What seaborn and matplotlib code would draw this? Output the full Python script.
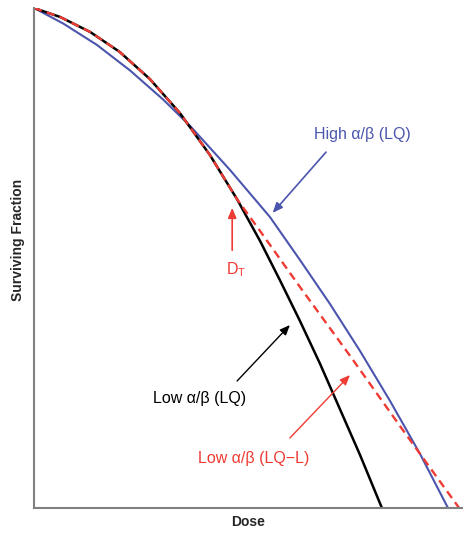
import numpy as np
import pandas as pd
import matplotlib
matplotlib.use("Agg")
import matplotlib.pyplot as plt
import seaborn as sns

# ---- data (dose, log10 surviving fraction) ----
black_dose = [0, 0.61, 1.31, 2.00, 2.70, 3.40, 4.10, 4.73, 5.27, 5.73, 6.20, 6.67, 7.13, 7.60, 8.11]
black_log = [0, -0.09, -0.24, -0.44, -0.71, -1.05, -1.47, -1.91, -2.33, -2.72, -3.13, -3.56, -4.01, -4.47, -5.00]

red_dose = [0, 0.61, 1.31, 2.00, 2.70, 3.40, 4.10, 4.73, 5.27, 6.20, 7.37, 8.53, 9.91]
red_log = [0, -0.09, -0.24, -0.44, -0.71, -1.05, -1.47, -1.91, -2.23, -2.79, -3.48, -4.18, -5.00]

blue_dose = [0, 0.68, 1.47, 2.24, 3.01, 3.64, 4.57, 5.50, 6.20, 6.90, 7.60, 8.30, 9.00, 9.65]
blue_log = [0, -0.155, -0.37, -0.625, -0.915, -1.18, -1.62, -2.09, -2.52, -2.96, -3.43, -3.93, -4.46, -5.00]

BLUE = "#4b55ad"
RED = "#ee3b34"

sns.set_style("white")
plt.rcParams['font.family'] = ['Liberation Sans', 'DejaVu Sans']

fig = plt.figure(figsize=(4.63, 5.33), dpi=100)
ax = fig.add_axes([34 / 463, 25 / 533, 429 / 463, 500 / 533])

df_b = pd.DataFrame({"dose": black_dose, "sf": 10.0 ** np.array(black_log)})
df_r = pd.DataFrame({"dose": red_dose, "sf": 10.0 ** np.array(red_log)})
df_h = pd.DataFrame({"dose": blue_dose, "sf": 10.0 ** np.array(blue_log)})

sns.lineplot(data=df_h, x="dose", y="sf", ax=ax, color=BLUE, lw=1.5, sort=False)
sns.lineplot(data=df_b, x="dose", y="sf", ax=ax, color="black", lw=1.8, sort=False)
sns.lineplot(data=df_r, x="dose", y="sf", ax=ax, color=RED, lw=1.7, sort=False,
             linestyle=(0, (3.5, 2.2)))

ax.set_yscale("log")
ax.set_xlim(0, 10)
ax.set_ylim(1e-5, 1)
ax.set_xticks([])
ax.set_yticks([])
ax.yaxis.set_minor_locator(matplotlib.ticker.NullLocator())
for s in ["top", "right"]:
    ax.spines[s].set_visible(False)
for s in ["left", "bottom"]:
    ax.spines[s].set_color("#808080")
    ax.spines[s].set_linewidth(1.5)

ax.set_ylabel("")
ax.set_xlabel("Dose", fontsize=10, fontweight="bold", labelpad=5)
fig.text(18 / 463, 1 - 240 / 533, "Surviving Fraction", rotation=90, fontsize=10,
         fontweight="bold", ha="center", va="center")

def Y(v):
    return 10.0 ** v

fs = 11.5
# High alpha/beta
ax.text(7.65, Y(-1.26), "High α/β (LQ)", color=BLUE, fontsize=fs, ha="center", va="center")
ax.annotate("", xy=(5.52, Y(-2.07)), xytext=(6.85, Y(-1.42)),
            arrowprops=dict(arrowstyle="-|>,head_length=0.6,head_width=0.25", color=BLUE, lw=1.2))
# D_T
ax.text(4.71, Y(-2.62), r"D$_\mathregular{T}$", color=RED, fontsize=fs, ha="center", va="center")
ax.annotate("", xy=(4.62, Y(-1.97)), xytext=(4.62, Y(-2.45)),
            arrowprops=dict(arrowstyle="-|>,head_length=0.6,head_width=0.25", color=RED, lw=1.2))
# Low alpha/beta LQ
ax.text(3.87, Y(-3.90), "Low α/β (LQ)", color="black", fontsize=fs, ha="center", va="center")
ax.annotate("", xy=(6.01, Y(-3.15)), xytext=(4.69, Y(-3.75)),
            arrowprops=dict(arrowstyle="-|>,head_length=0.6,head_width=0.25", color="black", lw=1.0))
# Low alpha/beta LQ-L
ax.text(5.13, Y(-4.50), "Low α/β (LQ−L)", color=RED, fontsize=fs, ha="center", va="center")
ax.annotate("", xy=(7.41, Y(-3.65)), xytext=(5.92, Y(-4.32)),
            arrowprops=dict(arrowstyle="-|>,head_length=0.6,head_width=0.25", color=RED, lw=1.0))

fig.savefig("out.png", dpi=100)
